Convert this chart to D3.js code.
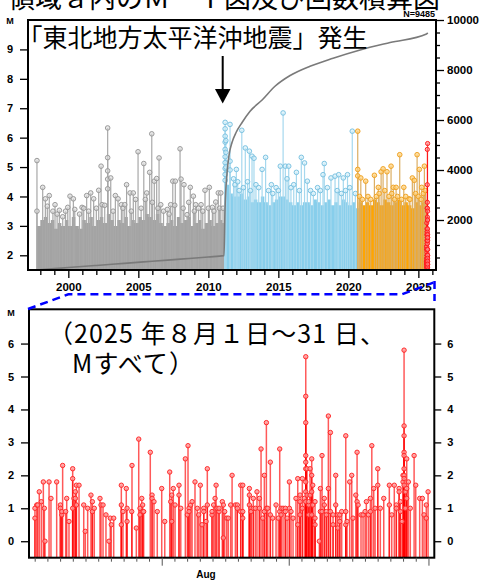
<!DOCTYPE html>
<html><head><meta charset="utf-8">
<script src="https://cdn.jsdelivr.net/npm/d3@7"></script>
<style>body{margin:0;background:#fff}svg{display:block}</style>
</head><body>
<svg id="c" width="482" height="580"></svg>
<script>
// ===== DATA =====
// Top panel: dense background envelope (year, top magnitude) per period
const grayDenseYears = [1997.75,1998.0,1998.25,1998.5,1998.75,1999.0,1999.25,1999.5,1999.75,2000.0,2000.25,2000.5,2000.75,2001.0,2001.25,2001.5,2001.75,2002.0,2002.25,2002.5,2002.75,2003.0,2003.25,2003.5,2003.75,2004.0,2004.25,2004.5,2004.75,2005.0,2005.25,2005.5,2005.75,2006.0,2006.25,2006.5,2006.75,2007.0,2007.25,2007.5,2007.75,2008.0,2008.25,2008.5,2008.75,2009.0,2009.25,2009.5,2009.75,2010.0,2010.25,2010.5,2010.75,2011.0,2011.19];
const grayDenseTops  = [3.0,3.2,3.3,3.1,3.2,2.9,3.1,3.0,3.2,3.0,3.3,3.0,2.9,3.2,3.1,3.3,3.0,3.2,3.3,3.1,3.4,3.2,3.0,3.2,3.1,3.3,3.0,3.2,3.1,3.3,3.2,3.4,3.3,3.2,3.4,3.1,3.0,3.1,3.2,3.0,3.3,3.1,3.2,3.3,3.0,3.1,3.2,2.9,3.1,3.2,3.0,3.1,3.2,3.1,3.1];
const blueDenseYears = [2011.19,2011.35,2011.5,2011.75,2012.0,2012.25,2012.5,2012.75,2013.0,2013.25,2013.5,2013.75,2014.0,2014.25,2014.5,2014.75,2015.0,2015.25,2015.5,2015.75,2016.0,2016.25,2016.5,2016.75,2017.0,2017.25,2017.5,2017.75,2018.0,2018.25,2018.5,2018.75,2019.0,2019.25,2019.5,2019.75,2020.0,2020.25,2020.5,2020.74];
const blueDenseTops  = [5.0,4.4,4.1,4.0,4.0,4.1,3.9,4.0,3.8,3.9,3.8,4.0,3.8,3.7,3.8,3.9,4.0,4.0,3.9,3.8,3.7,3.8,3.7,3.8,3.8,3.7,3.9,3.8,3.7,3.8,3.9,3.7,3.8,3.7,3.9,3.8,3.7,3.8,3.6,3.6];
const orangeDenseYears = [2020.74,2021.0,2021.25,2021.5,2021.75,2022.0,2022.25,2022.5,2022.75,2023.0,2023.25,2023.5,2023.75,2024.0,2024.25,2024.5,2024.75,2025.0,2025.25,2025.5,2025.58];
const orangeDenseTops  = [3.8,3.7,3.8,3.7,3.9,3.8,3.7,3.9,3.8,3.7,3.8,3.9,3.7,3.8,3.7,3.6,3.8,3.7,3.8,3.9,3.9];

// Top panel: individual events [decimal year, M]
const grayEvents = [[1997.76,5.22],[1997.76,3.5],[1998.17,4.31],[1998.36,3.92],[1998.5,3.67],[1998.64,4.03],[1998.9,3.5],[1999.05,3.72],[1999.2,3.4],[1999.36,3.53],[1999.6,3.31],[1999.8,3.5],[1999.96,3.63],[2000.12,4.01],[2000.36,3.92],[2000.46,3.56],[2000.8,3.4],[2000.98,3.63],[2001.1,3.6],[2001.31,4.03],[2001.45,3.5],[2001.6,4.12],[2001.81,3.92],[2002.0,3.6],[2002.17,4.21],[2002.34,5.03],[2002.41,3.72],[2002.6,3.7],[2002.81,6.33],[2002.81,5.32],[2002.81,4.87],[2002.81,4.59],[2002.81,4.26],[2003.03,4.63],[2003.2,3.5],[2003.36,4.03],[2003.55,3.92],[2003.79,3.72],[2003.9,3.6],[2004.03,3.72],[2004.16,4.40],[2004.41,4.12],[2004.5,3.5],[2004.64,4.12],[2004.81,3.90],[2004.98,5.52],[2005.2,3.6],[2005.39,5.12],[2005.5,3.9],[2005.6,4.12],[2005.81,4.82],[2005.96,6.13],[2006.0,3.8],[2006.14,4.52],[2006.31,4.61],[2006.4,3.6],[2006.48,5.31],[2006.6,3.72],[2006.8,3.5],[2007.07,3.56],[2007.2,3.4],[2007.31,3.72],[2007.46,4.52],[2007.6,3.7],[2007.64,4.52],[2007.98,5.62],[2008.05,4.59],[2008.2,3.6],[2008.26,4.40],[2008.48,3.38],[2008.6,3.8],[2008.71,4.31],[2008.93,4.01],[2009.0,3.5],[2009.1,3.72],[2009.3,3.6],[2009.48,3.72],[2009.6,3.5],[2009.76,4.21],[2010.0,3.6],[2010.07,4.31],[2010.29,3.63],[2010.4,3.5],[2010.53,3.81],[2010.71,4.12],[2010.8,3.6],[2010.89,4.12],[2011.05,3.6]];
const blueEvents = [[2011.20,6.52],[2011.20,6.3],[2011.20,6.05],[2011.20,5.85],[2011.20,5.6],[2011.20,5.35],[2011.20,5.15],[2011.20,4.95],[2011.20,4.75],[2011.20,4.55],[2011.25,5.9],[2011.25,5.5],[2011.25,5.0],[2011.55,6.45],[2011.55,5.2],[2011.55,4.9],[2011.8,4.6],[2011.9,4.4],[2012.0,4.92],[2012.1,4.5],[2012.2,4.2],[2012.39,6.25],[2012.5,4.3],[2012.64,5.65],[2012.8,4.5],[2012.93,5.54],[2013.0,4.2],[2013.12,5.37],[2013.26,5.3],[2013.4,4.4],[2013.6,4.3],[2013.84,4.92],[2014.09,5.33],[2014.3,4.2],[2014.5,4.4],[2014.6,4.1],[2014.84,4.3],[2015.0,4.2],[2015.14,5.03],[2015.34,6.84],[2015.5,5.03],[2015.62,4.6],[2015.74,5.03],[2015.9,4.3],[2016.1,4.4],[2016.29,4.82],[2016.5,4.2],[2016.64,5.33],[2016.87,5.14],[2017.07,4.52],[2017.3,4.2],[2017.5,4.1],[2017.8,4.3],[2018.0,4.2],[2018.19,4.74],[2018.28,5.12],[2018.5,4.3],[2018.76,4.63],[2019.05,4.69],[2019.2,4.2],[2019.31,4.74],[2019.5,4.1],[2019.64,4.63],[2019.8,4.2],[2019.94,4.74],[2020.1,4.3],[2020.28,6.22],[2020.5,4.1]];
const orangeEvents = [[2020.67,6.22],[2020.67,4.92],[2020.67,4.7],[2020.8,4.0],[2020.89,4.63],[2021.0,3.9],[2021.24,4.52],[2021.4,4.0],[2021.6,3.9],[2021.86,4.72],[2022.0,4.0],[2022.14,4.31],[2022.2,4.1],[2022.34,4.84],[2022.48,4.94],[2022.6,4.2],[2022.76,4.84],[2022.9,4.0],[2023.05,5.03],[2023.1,4.1],[2023.21,4.31],[2023.3,3.9],[2023.41,4.31],[2023.5,4.0],[2023.67,5.42],[2023.8,3.9],[2023.96,4.31],[2024.1,4.0],[2024.34,3.92],[2024.4,3.9],[2024.57,4.63],[2024.71,4.55],[2024.8,4.1],[2024.91,5.42],[2025.0,4.0],[2025.07,4.92],[2025.2,3.9],[2025.24,4.31],[2025.35,4.1],[2025.43,5.03],[2025.5,4.2]];

// Cumulative number curve
const cumYears  = [1997.70,1999.0,2000.0,2002.0,2004.0,2006.0,2008.0,2010.0,2011.12,2011.19,2011.34,2011.48,2011.69,2011.98,2012.41,2012.98,2013.84,2014.76,2015.84,2017.26,2018.91,2020.84,2022.98,2025.58,2025.67];
const cumCounts = [0,55,97,182,266,350,435,520,575,2400,3900,4600,5100,5500,5900,6350,6800,7350,7780,8150,8470,8800,9100,9440,9485];

// Bottom panel: August 2025 events [day of August (1.0 = Aug 1 00:00), M]
const augEvents = [[1.02,1.0],[1.02,0.7],[1.16,1.1],[1.24,1.1],[1.36,1.5],[1.52,1.2],[1.68,1.8],[1.76,1.0],[1.81,0.0],[2.13,1.8],[2.28,1.3],[2.73,1.8],[3.02,1.1],[3.02,1.0],[3.13,0.8],[3.13,0.9],[3.20,2.3],[3.44,0.9],[3.52,1.3],[3.70,0.6],[3.99,2.2],[3.99,1.9],[3.99,1.0],[4.09,1.3],[4.20,1.5],[4.20,1.3],[4.28,1.7],[4.28,1.1],[4.49,1.7],[4.86,1.1],[4.98,0.3],[5.17,1.0],[5.43,1.4],[5.54,1.2],[5.54,0.9],[5.69,1.0],[6.14,1.3],[6.22,1.1],[6.38,1.1],[6.61,0.8],[6.85,0.0],[6.95,0.7],[7.03,0.5],[7.22,0.7],[7.82,1.7],[7.82,1.1],[7.82,0.5],[7.95,0.9],[8.21,1.6],[8.27,1.0],[8.27,0.6],[8.64,0.9],[8.66,2.3],[9.00,0.4],[9.19,3.1],[9.29,1.0],[9.29,0.8],[9.43,1.3],[9.50,1.1],[9.50,0.9],[9.58,0.9],[10.10,2.7],[10.24,1.4],[10.24,1.3],[10.39,1.2],[10.65,0.9],[11.00,1.6],[11.24,0.6],[11.63,2.1],[11.71,1.2],[11.79,1.4],[11.79,0.6],[11.91,1.6],[12.05,1.1],[12.36,1.7],[12.36,1.4],[12.50,1.0],[12.86,2.5],[13.02,0.8],[13.07,2.9],[13.15,1.0],[13.15,0.9],[13.28,1.1],[13.39,1.2],[13.62,1.8],[13.80,1.0],[13.91,0.8],[14.04,1.7],[14.17,0.5],[14.31,1.0],[14.31,0.9],[14.49,0.6],[14.59,2.2],[14.59,1.1],[14.96,0.8],[14.96,0.9],[15.09,1.1],[15.20,1.3],[15.28,1.7],[15.35,1.0],[15.51,0.9],[15.51,1.0],[15.77,1.2],[15.85,0.1],[15.85,1.1],[15.96,0.9],[16.12,0.7],[16.24,0.7],[16.43,1.1],[16.54,2.0],[16.80,1.1],[16.95,1.1],[16.95,1.0],[17.22,0.9],[17.22,1.7],[17.38,1.7],[17.38,0.9],[17.38,0.7],[17.90,1.6],[17.90,1.4],[17.90,1.1],[18.03,1.0],[18.03,0.9],[18.21,1.3],[18.21,1.0],[18.37,1.0],[18.50,1.5],[18.69,1.3],[18.69,1.0],[18.82,2.8],[18.95,0.7],[19.08,2.0],[19.08,0.9],[19.24,3.6],[19.24,1.0],[19.35,1.0],[19.55,2.4],[19.55,0.8],[19.74,0.7],[20.00,1.1],[20.18,0.7],[20.29,2.8],[20.29,0.9],[20.39,1.0],[20.39,0.8],[20.55,1.0],[20.73,1.0],[20.73,0.9],[20.87,0.7],[21.05,1.8],[21.05,1.0],[21.18,0.9],[21.34,0.7],[21.57,1.3],[21.71,1.9],[21.71,0.5],[21.89,1.2],[21.89,1.4],[21.89,0.8],[22.07,1.9],[22.07,1.0],[22.23,1.3],[22.34,5.6],[22.34,4.4],[22.34,3.6],[22.34,2.6],[22.34,2.4],[22.34,2.2],[22.34,1.8],[22.34,1.5],[22.34,1.2],[22.44,2.2],[22.44,1.4],[22.57,1.1],[22.57,1.2],[22.57,0.8],[22.68,2.2],[22.68,1.4],[22.81,2.5],[22.81,2.0],[22.81,1.5],[22.81,0.8],[22.89,1.7],[22.89,1.1],[23.07,1.2],[23.07,0.7],[23.07,0.5],[23.41,0.0],[23.49,1.6],[23.49,0.9],[23.62,2.6],[23.62,0.9],[23.80,1.3],[23.80,1.1],[23.96,0.9],[23.96,0.8],[24.12,3.8],[24.12,1.6],[24.28,3.3],[24.28,0.9],[24.49,0.8],[24.49,0.5],[24.70,2.0],[24.70,1.1],[24.86,0.8],[24.86,0.4],[25.02,0.6],[25.02,0.8],[25.17,0.9],[25.49,3.2],[25.49,0.9],[25.49,0.5],[25.59,0.6],[25.80,1.8],[25.96,2.0],[26.06,0.7],[26.28,1.4],[26.38,2.7],[26.38,1.2],[26.46,1.1],[26.69,0.8],[26.85,0.8],[27.01,0.9],[27.11,1.2],[27.27,0.8],[27.43,1.3],[27.43,0.9],[27.54,2.9],[27.69,1.6],[27.80,1.0],[28.01,1.7],[28.01,2.2],[28.21,1.0],[28.48,1.3],[28.92,1.7],[28.92,1.1],[29.11,0.8],[29.31,1.7],[29.47,1.1],[29.47,1.0],[29.69,1.6],[29.69,1.5],[29.79,1.2],[29.79,0.9],[29.92,0.6],[30.00,1.8],[30.00,2.0],[30.08,5.8],[30.08,3.5],[30.08,3.2],[30.08,2.7],[30.08,2.6],[30.08,2.2],[30.08,2.0],[30.08,1.9],[30.08,1.7],[30.18,1.5],[30.18,1.0],[30.29,2.5],[30.29,1.6],[30.29,1.3],[30.42,1.8],[30.57,1.0],[30.87,2.6],[31.00,1.7],[31.31,1.3],[31.52,1.3],[31.65,0.8],[31.83,1.1],[31.83,0.7],[31.97,1.5]];

// Tick labels
const topMTicks = [2,3,4,5,6,7,8,9];
const topNTicks = [2000,4000,6000,8000,10000];
const topYearMajor = [2000,2005,2010,2015,2020,2025];
const botMTicks = [0,1,2,3,4,5,6];
const botDayMajor = [11,21,32];
const titleText = "領域ａ内のＭ－Ｔ図及び回数積算図";
const quakeText = "「東北地方太平洋沖地震」発生";
const noteLine1 = "（2025 年８月１日～31 日、";
const noteLine2 = "Mすべて）";
const countLabel = "N=9485";

// ===== DRAW =====
const svg = d3.select("#c");
const tickFont = "'Liberation Sans', Arial, sans-serif";
const jpFont = "'Noto Sans CJK JP', sans-serif";

// ---------- Top panel ----------
const T = {l:28, r:436, t:20, b:270};
const xT = d3.scaleLinear([1997.12, 2026.26], [T.l, T.r]);
const yM = d3.scaleLinear([1.5, 10], [T.b, T.t]);
const yN = d3.scaleLinear([0, 10000], [T.b, T.t]);

const defs = svg.append("defs");
defs.append("clipPath").attr("id","clipT").append("rect")
  .attr("x",T.l).attr("y",T.t).attr("width",T.r-T.l).attr("height",T.b-T.t);

const gT = svg.append("g").attr("clip-path","url(#clipT)");

function denseArea(g, years, tops, color) {
  const pts = years.map((y,i)=>[y,tops[i]]);
  g.append("path").datum(pts)
    .attr("d", d3.area().curve(d3.curveStepAfter).x(d=>xT(d[0])).y0(T.b).y1(d=>yM(d[1])))
    .attr("fill", color);
}
function stems(g, data, xf, yf, base, st) {
  g.append("g").selectAll("line").data(data).join("line")
    .attr("x1", d=>xf(d[0])).attr("x2", d=>xf(d[0]))
    .attr("y1", base).attr("y2", d=>yf(d[1]))
    .attr("stroke", st.stem).attr("stroke-opacity", st.op).attr("stroke-width", st.w);
  g.append("g").selectAll("circle").data(data).join("circle")
    .attr("cx", d=>xf(d[0])).attr("cy", d=>yf(d[1])).attr("r", st.r)
    .attr("fill", st.fill).attr("fill-opacity", st.fop)
    .attr("stroke", st.circ).attr("stroke-width", 1);
}

denseArea(gT, grayDenseYears, grayDenseTops, "#a3a3a3");
stems(gT, grayEvents, xT, yM, T.b, {stem:"#a8a8a8", op:1, w:1.2, r:2.3, fill:"#d8d8d8", fop:0.6, circ:"#9a9a9a"});
denseArea(gT, blueDenseYears, blueDenseTops, "#87ceeb");
stems(gT, blueEvents, xT, yM, T.b, {stem:"#a5d8ee", op:1, w:1.2, r:2.3, fill:"#d2eef9", fop:0.6, circ:"#7cc3e2"});
denseArea(gT, orangeDenseYears, orangeDenseTops, "#ffa500");
stems(gT, orangeEvents, xT, yM, T.b, {stem:"#dcae62", op:1, w:1.2, r:2.3, fill:"#ffd27a", fop:0.7, circ:"#f0a428"});
// August 2025 events in the top panel
const augYear = d => 2025 + (211 + d) / 365;
const augTop = augEvents.map(e => [augYear(e[0]), e[1]]);
stems(gT, augTop, xT, yM, T.b, {stem:"#ff0000", op:0.8, w:1, r:2.1, fill:"#ff8080", fop:0.6, circ:"#ff2020"});

// cumulative curve
const cum = cumYears.map((y,i)=>[y,cumCounts[i]]);
gT.append("path").datum(cum)
  .attr("d", d3.line().curve(d3.curveMonotoneX).x(d=>xT(d[0])).y(d=>yN(d[1])))
  .attr("fill","none").attr("stroke","#7a7a7a").attr("stroke-width",1.6);

// frame
svg.append("rect").attr("x",T.l).attr("y",T.t).attr("width",T.r-T.l).attr("height",T.b-T.t)
  .attr("fill","none").attr("stroke","#000").attr("stroke-width",2);

function styleAxis(g, size) {
  g.select(".domain").remove();
  g.selectAll(".tick line").attr("stroke","#000").attr("stroke-width",1.3);
  g.selectAll(".tick text").attr("font-family",tickFont).attr("font-weight","bold")
    .attr("font-size",size).attr("fill","#000");
}
// left M axis
styleAxis(svg.append("g").attr("transform",`translate(${T.l},0)`)
  .call(d3.axisLeft(yM).tickValues(topMTicks).tickSize(8).tickPadding(7).tickFormat(d3.format("d"))), 11);
// right count axis (minor + major)
const minorN = d3.range(500, 10000, 500).filter(v => !topNTicks.includes(v));
styleAxis(svg.append("g").attr("transform",`translate(${T.r},0)`)
  .call(d3.axisRight(yN).tickValues(minorN).tickSize(4).tickFormat("")), 11);
styleAxis(svg.append("g").attr("transform",`translate(${T.r},0)`)
  .call(d3.axisRight(yN).tickValues(topNTicks).tickSize(8).tickPadding(3).tickFormat(d3.format("d"))), 11.5);
// bottom year axis
const minorYears = d3.range(1998, 2027).filter(v => !topYearMajor.includes(v));
styleAxis(svg.append("g").attr("transform",`translate(0,${T.b})`)
  .call(d3.axisBottom(xT).tickValues(minorYears).tickSize(5).tickFormat("")), 11);
styleAxis(svg.append("g").attr("transform",`translate(0,${T.b})`)
  .call(d3.axisBottom(xT).tickValues(topYearMajor).tickSize(8).tickPadding(5).tickFormat(d3.format("d"))), 11.5);

svg.append("text").attr("x",10).attr("y",24).attr("text-anchor","middle")
  .attr("font-family",tickFont).attr("font-weight","bold").attr("font-size",9).text("M");

// title (cut at top)
svg.append("text").attr("x",8).attr("y",7.5).attr("font-family",jpFont).attr("font-size",27)
  .attr("fill","#000").text(titleText);
svg.append("text").attr("x",435).attr("y",16.5).attr("text-anchor","end")
  .attr("font-family",tickFont).attr("font-weight","bold").attr("font-size",9).text(countLabel);
// annotation
svg.append("text").attr("x",17.5).attr("y",47).attr("font-family",jpFont).attr("font-size",25)
  .attr("fill","#000").text(quakeText);
// arrow
svg.append("line").attr("x1",222.7).attr("x2",222.7).attr("y1",56).attr("y2",91)
  .attr("stroke","#000").attr("stroke-width",2);
svg.append("path").attr("d","M215,89 L230.5,89 L222.7,103.5 Z").attr("fill","#000");

// ---------- Bottom panel ----------
const B = {l:29, r:434.3, t:309.3, b:557.7};
const xB = d3.scaleLinear([0.551, 32.46], [B.l, B.r]);
const yB = d3.scaleLinear([-0.5, 7.04], [B.b, B.t]);
defs.append("clipPath").attr("id","clipB").append("rect")
  .attr("x",B.l).attr("y",B.t).attr("width",B.r-B.l).attr("height",B.b-B.t);
const gB = svg.append("g").attr("clip-path","url(#clipB)");
stems(gB, augEvents, xB, yB, B.b, {stem:"#ff0000", op:0.65, w:1.5, r:2.2, fill:"#ff9a9a", fop:0.8, circ:"#ff2a2a"});

svg.append("rect").attr("x",B.l).attr("y",B.t).attr("width",B.r-B.l).attr("height",B.b-B.t)
  .attr("fill","none").attr("stroke","#000").attr("stroke-width",2);

styleAxis(svg.append("g").attr("transform",`translate(${B.l},0)`)
  .call(d3.axisLeft(yB).tickValues(botMTicks).tickSize(8).tickPadding(7).tickFormat(d3.format("d"))), 11);
styleAxis(svg.append("g").attr("transform",`translate(${B.r},0)`)
  .call(d3.axisRight(yB).tickValues(botMTicks).tickSize(7).tickPadding(6).tickFormat(d3.format("d"))), 11);
const minorDays = d3.range(1, 33).filter(v => !botDayMajor.includes(v));
const gd1 = svg.append("g").attr("transform",`translate(0,${B.b})`)
  .call(d3.axisBottom(xB).tickValues(minorDays).tickSize(4).tickFormat(""));
styleAxis(gd1, 10); gd1.selectAll(".tick line").attr("stroke","#555").attr("stroke-width",1);
const gd2 = svg.append("g").attr("transform",`translate(0,${B.b})`)
  .call(d3.axisBottom(xB).tickValues(botDayMajor).tickSize(8).tickFormat(""));
styleAxis(gd2, 10); gd2.selectAll(".tick line").attr("stroke","#555").attr("stroke-width",1);
svg.append("text").attr("x",206).attr("y",578).attr("text-anchor","middle")
  .attr("font-family",tickFont).attr("font-weight","bold").attr("font-size",10).text("Aug");
svg.append("text").attr("x",11).attr("y",316).attr("text-anchor","middle")
  .attr("font-family",tickFont).attr("font-weight","bold").attr("font-size",9).text("M");

svg.append("text").attr("x",48).attr("y",343).attr("font-family",jpFont).attr("font-size",25)
  .attr("letter-spacing",1.1).attr("fill","#000").text(noteLine1);
svg.append("text").attr("x",72).attr("y",373).attr("font-family",jpFont).attr("font-size",25)
  .attr("letter-spacing",1.1).attr("fill","#000").text(noteLine2);

// ---------- zoom connector (dashed blue) ----------
svg.append("path").attr("d","M28,309 L68.3,294.3 L401.7,294.3 L433.3,282.7")
  .attr("fill","none").attr("stroke","#0000ff").attr("stroke-width",2.5).attr("stroke-dasharray","8,5");
svg.append("path").attr("d","M434.5,281 L434.5,301")
  .attr("fill","none").attr("stroke","#0000ff").attr("stroke-width",2.5).attr("stroke-dasharray","8,5");
</script>
</body></html>
